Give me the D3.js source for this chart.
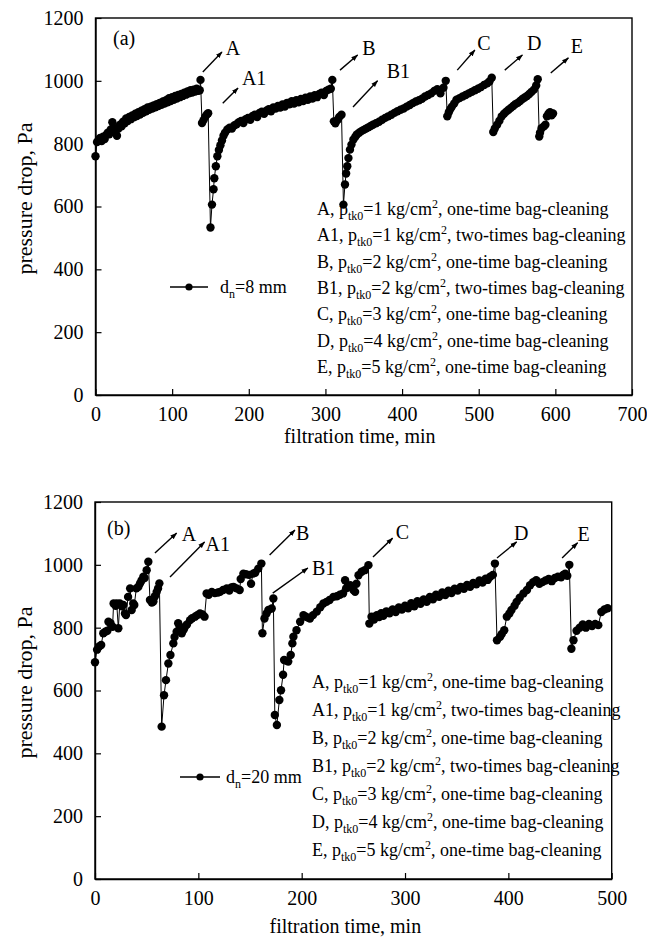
<!DOCTYPE html>
<html><head><meta charset="utf-8">
<script src="https://cdn.jsdelivr.net/npm/d3@7"></script>
<style>
html,body{margin:0;padding:0;background:#fff;}
</style></head>
<body><svg id="c" width="647" height="948"></svg>
<script>
// ---------- DATA ----------
// panel (a): d_n = 8 mm
const timeA = [0,2,4,6,8,10,12,14,16,18,20,22,24,26,28,30,32,34,36,38,40,42,44,46,48,50,52,54,56,58,60,62,64,66,68,70,72,74,76,78,80,82,84,86,88,90,92,94,96,98,100,102,104,106,108,110,112,114,116,118,120,122,124,126,128,130,132,134,136,137,139,141,143,145,147,150,152,154,155,157,159,161,163,165,167,169,172,175,178,181,184,187,190,193,196,199,202,205,208,211,214,217,220,223,226,229,232,235,238,241,244,247,250,253,256,259,262,265,268,271,274,277,280,283,286,289,292,295,298,301,304,307,309,311,313,316,318,321,323.5,325.5,327,328.5,330,332,334,336.5,339,341,344,347,350,353,356,359,362,366,370,374,378,382,386,390,394,398,402,406,410,414,418,422,426,430,434,438,442,446,450,454,457,459,461,463,465,468,471,475,479,483,487,491,495,499,503,507,511,514,517,519,521,524,527,530,533,536,539,542,545,548,551,554,557,560,563,566,569,572,575,577,579,580,582,585,587,589,591,593,595,597];
const dropA = [760,805,812,818,808,822,815,828,835,830,845,868,850,838,825,848,860,855,870,865,880,872,885,878,890,884,895,888,900,893,905,898,910,903,915,908,918,912,922,916,926,920,930,924,934,928,938,932,945,936,948,940,952,944,955,948,958,952,962,956,966,960,970,963,972,966,975,968,970,1003,866,875,885,892,897,533,606,655,690,728,760,780,795,810,825,835,845,851,848,858,862,868,872,866,878,882,876,888,892,885,898,902,895,905,910,903,915,912,920,915,925,918,930,925,935,928,938,932,942,936,946,940,950,944,954,948,958,962,955,968,972,975,1003,871,865,876,885,892,606,670,705,728,754,781,797,813,822,829,835,840,844,848,852,856,860,865,870,876,882,887,892,898,903,908,912,918,923,929,934,938,943,950,955,960,968,973,960,978,1000,887,900,910,918,928,940,945,950,955,960,965,970,975,980,987,992,998,1010,837,848,860,873,887,895,902,908,914,920,926,930,936,942,947,952,958,965,972,985,1005,823,835,849,855,860,887,895,900,890,896];
// panel (b): d_n = 20 mm
const timeB = [0,2,4,6,8,10,12,13,15,17,18,20,21,22.6,24,26,27.4,29,30,32,34,35.5,37,38,40,42,43.6,45,46.8,48,50,51.6,53.2,55,56.5,58,59.7,61,62.3,64.5,66.8,68.7,71,73,75.8,77,79,80.5,82,84,86,87,89,92,94,96.8,99,101.6,104,106,108,110,113,116,119,121,124,127.5,130,132,134,137,140,141,143.6,146,149,151,153,155,158,161,162,164,166,167.8,171,172.6,174,176,178.4,180,182,183,185,187,189.4,191,192,195,198.5,201.7,204,206,208,211,214.6,218,221,224,227,230.7,234,237,240,242,243,245,247,250,251.7,253,255,258,261,264.6,265.5,267.6,270,272.7,275,277,279,282,285,288,291,294,297,300,303,306,309,312,315,318,321,324,327,330,333,336,339,342,345,348,351,354,357,360,363,366,369,372,375,378,380,382.4,385,387,389,392,393.6,396,398.5,401,403,406,408,411,414.6,418,421,424,427,430,433,436,439,442,445,448,451,453,455,457,459,461,463,466,469,472,475,478,481,484,487,490,493,496];
const dropB = [690,730,740,745,782,787,790,819,814,803,877,870,877,798,877,868,872,845,840,898,925,856,877,872,925,930,941,950,962,958,983,1010,888,880,883,900,914,925,941,485,585,633,686,713,750,770,787,814,800,782,795,803,810,824,830,835,840,845,842,835,909,905,914,910,912,914,920,925,918,928,930,925,920,955,972,970,968,940,972,975,988,1004,782,829,845,856,861,893,522,490,570,601,650,697,695,692,713,750,771,792,819,840,835,832,829,840,851,865,877,882,888,898,900,905,909,951,925,930,935,920,914,940,967,978,983,999,813,835,826,840,834,846,838,852,846,858,850,864,858,870,862,878,868,884,876,890,882,898,890,905,898,912,904,918,910,924,918,930,924,936,930,942,938,950,944,956,952,962,968,1004,760,771,780,792,835,845,856,870,882,895,909,920,935,945,951,940,945,950,955,948,958,962,960,968,972,965,1000,733,760,790,800,810,800,812,805,812,808,850,858,862,875,880];
const ticksA_x = [0,100,200,300,400,500,600,700];
const ticksB_x = [0,100,200,300,400,500];
const ticksY = [0,200,400,600,800,1000,1200];
// legend content
const caseNames = ["A","A1","B","B1","C","D","E"];
const caseP = [1,1,2,2,3,4,5];
const caseMode = ["one-time","two-times","one-time","two-times","one-time","one-time","one-time"];
// annotation arrows (data coords): [label, t0,p0, t1,p1, labelT, labelP]
const arrowsA = [["A",140,1028,165,1092,170,1082],["A1",166,929,186,977,191,987],["B",319,1034,342,1082,348,1082],["B1",336,917,368,1000,380,1009],["C",472,1034,495,1098,498,1098],["D",534,1034,557,1082,563,1098],["E",594,1025,617,1073,620,1090]];
const arrowsB = [["A",58,1038,79,1101,84,1076],["A1",72.6,961,106,1073,107,1044],["B",169,1031,193.5,1111,194.5,1079],["B1",172,910,206,990,210,968],["C",269,1025,288,1085,291,1082],["D",389,1022,408,1073,405.5,1079],["E",452,1022,467,1070,467,1076]];

// ---------- LAYOUT ----------
const FONT = '"Liberation Serif","DejaVu Serif","Noto Serif",serif';
const panels = [
  {tag:"(a)", t:timeA, p:dropA, xmax:700, xt:ticksA_x, x0:95.5, x1:632, y0:18, y1:395, arrows:arrowsA, dn:"8",
   legX:317, legY0:215, legDy:26.3, mk:{x0:170,x1:208,y:287,tx:220}, titleY:443, tagX:113, tagY:45},
  {tag:"(b)", t:timeB, p:dropB, xmax:500, xt:ticksB_x, x0:95, x1:611.7, y0:502, y1:879, arrows:arrowsB, dn:"20",
   legX:312, legY0:688, legDy:28, mk:{x0:180,x1:220,y:777,tx:226}, titleY:933, tagX:107, tagY:535}
];

const svg = d3.select("#c").attr("font-family",FONT);
svg.append("defs").append("marker").attr("id","ah").attr("viewBox","0 0 10 10")
  .attr("refX",9).attr("refY",5).attr("markerWidth",7).attr("markerHeight",7)
  .attr("markerUnits","userSpaceOnUse").attr("orient","auto")
  .append("path").attr("d","M0,1.5 L10,5 L0,8.5 Z").attr("fill","#000");

function txt(sel, size){ return sel.append("text").attr("font-family",FONT).attr("font-size",size).attr("fill","#000"); }

panels.forEach(P=>{
  const x = d3.scaleLinear().domain([0,P.xmax]).range([P.x0,P.x1]);
  const y = d3.scaleLinear().domain([0,1200]).range([P.y1,P.y0]);
  const g = svg.append("g");
  g.append("rect").attr("x",P.x0).attr("y",P.y0).attr("width",P.x1-P.x0).attr("height",P.y1-P.y0)
    .attr("fill","none").attr("stroke","#000").attr("stroke-width",1.4);
  const ax = g.append("g").attr("transform",`translate(0,${P.y1})`)
    .call(d3.axisBottom(x).tickValues(P.xt).tickFormat(d3.format("d")).tickSizeInner(-6).tickSizeOuter(0).tickPadding(12));
  const ay = g.append("g").attr("transform",`translate(${P.x0},0)`)
    .call(d3.axisLeft(y).tickValues(ticksY).tickFormat(d3.format("d")).tickSizeInner(-6).tickSizeOuter(0).tickPadding(12));
  [ax,ay].forEach(a=>{
    a.attr("font-family",FONT).attr("font-size",20);
    a.select(".domain").attr("stroke","#000").attr("stroke-width",1.4);
    a.selectAll(".tick line").attr("stroke","#000").attr("stroke-width",1.2);
    a.selectAll(".tick text").attr("font-family",FONT).attr("font-size",20).attr("fill","#000");
  });
  txt(g,20).attr("x",(P.x0+P.x1)/2+(P.xmax===700?-4:-8)).attr("y",P.titleY).attr("text-anchor","middle")
    .text("filtration time, min");
  txt(g,22).attr("transform",`translate(32,${(P.y0+P.y1)/2-8}) rotate(-90)`).attr("text-anchor","middle")
    .text("pressure drop, Pa");
  const pts = P.t.map((t,i)=>[t,P.p[i]]);
  g.append("path").datum(pts).attr("fill","none").attr("stroke","#000").attr("stroke-width",1)
    .attr("d",d3.line().x(d=>x(d[0])).y(d=>y(d[1])));
  g.selectAll("circle.pt").data(pts).join("circle").attr("class","pt")
    .attr("cx",d=>x(d[0])).attr("cy",d=>y(d[1])).attr("r",4.2).attr("fill","#000");
  txt(g,20).attr("x",P.tagX).attr("y",P.tagY).text(P.tag);
  P.arrows.forEach(a=>{
    g.append("line").attr("x1",x(a[1])).attr("y1",y(a[2])).attr("x2",x(a[3])).attr("y2",y(a[4]))
      .attr("stroke","#000").attr("stroke-width",1.4).attr("marker-end","url(#ah)");
    txt(g,20).attr("x",x(a[5])).attr("y",y(a[6])).text(a[0]);
  });
  g.append("line").attr("x1",P.mk.x0).attr("x2",P.mk.x1).attr("y1",P.mk.y).attr("y2",P.mk.y).attr("stroke","#000").attr("stroke-width",1.4);
  g.append("circle").attr("cx",(P.mk.x0+P.mk.x1)/2).attr("cy",P.mk.y).attr("r",3.6).attr("fill","#000");
  const lt = txt(g,18).attr("x",P.mk.tx).attr("y",P.mk.y+6);
  lt.append("tspan").text("d");
  lt.append("tspan").attr("dy",5).attr("font-size",12).text("n");
  lt.append("tspan").attr("dy",-5).text("="+P.dn+" mm");
  caseNames.forEach((n,i)=>{
    const t = txt(g,18).attr("x",P.legX).attr("y",P.legY0+i*P.legDy);
    t.append("tspan").text(n+", p");
    t.append("tspan").attr("dy",5).attr("font-size",12).text("tk0");
    t.append("tspan").attr("dy",-5).text("="+caseP[i]+" kg/cm");
    t.append("tspan").attr("dy",-7).attr("font-size",12).text("2");
    t.append("tspan").attr("dy",7).text(", "+caseMode[i]+" bag-cleaning");
  });
});
</script></body></html>
